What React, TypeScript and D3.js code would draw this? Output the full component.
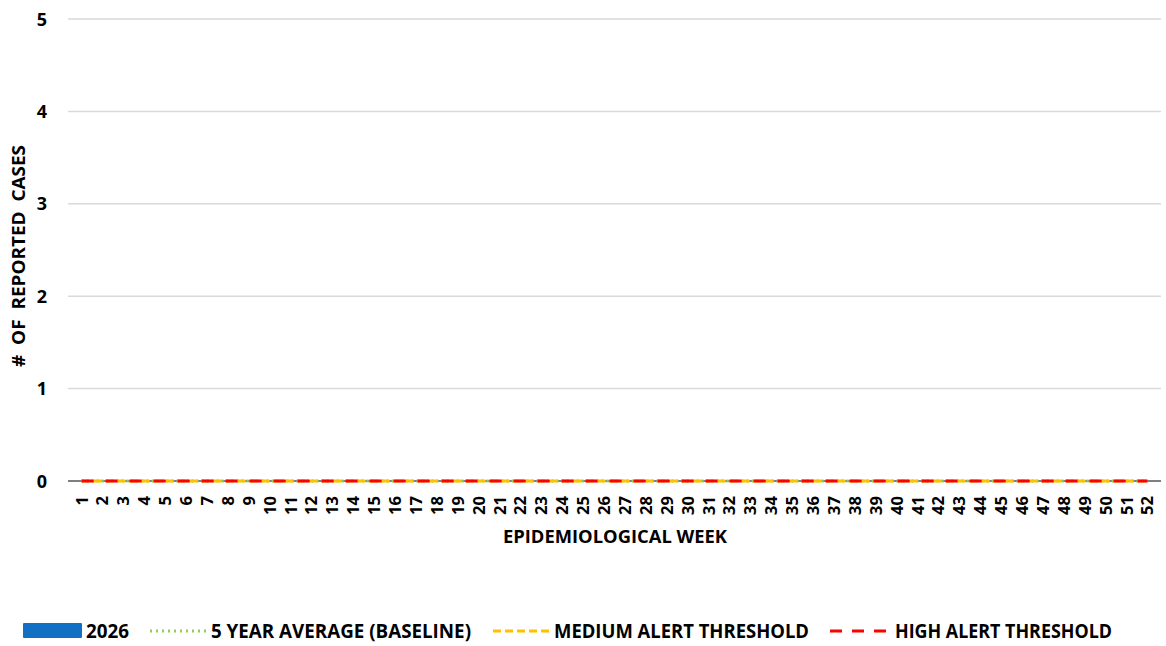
import React from "react";
import * as d3 from "d3";

const weeks: string[] = Array.from({ length: 52 }, (_, i) => String(i + 1));
const cases2026: number[] = [0,0,0,0,0,0,0,0,0,0,0,0,0,0,0,0,0,0,0,0,0,0,0,0,0,0,0,0,0,0,0,0,0,0,0,0,0,0,0,0,0,0,0,0,0,0,0,0,0,0,0,0];
const baseline: number[] = [0,0,0,0,0,0,0,0,0,0,0,0,0,0,0,0,0,0,0,0,0,0,0,0,0,0,0,0,0,0,0,0,0,0,0,0,0,0,0,0,0,0,0,0,0,0,0,0,0,0,0,0];
const mediumThreshold: number[] = [0,0,0,0,0,0,0,0,0,0,0,0,0,0,0,0,0,0,0,0,0,0,0,0,0,0,0,0,0,0,0,0,0,0,0,0,0,0,0,0,0,0,0,0,0,0,0,0,0,0,0,0];
const highThreshold: number[] = [0,0,0,0,0,0,0,0,0,0,0,0,0,0,0,0,0,0,0,0,0,0,0,0,0,0,0,0,0,0,0,0,0,0,0,0,0,0,0,0,0,0,0,0,0,0,0,0,0,0,0,0];
const yTicks: number[] = [0, 1, 2, 3, 4, 5];

const FONT = "'Open Sans', sans-serif";

export default function App() {
  const W = 1166, H = 646;
  const left = 68, right = 1161, top = 19, bottom = 481;
  const x = d3.scaleBand<string>().domain(weeks).range([left, right]).padding(0.3);
  const y = d3.scaleLinear().domain([0, 5]).range([bottom, top]);
  const cx = (w: string) => (x(w) as number) + x.bandwidth() / 2;
  const line = (vals: number[]) =>
    d3.line<number>().x((_, i) => cx(weeks[i])).y((v) => y(v))(vals) as string;

  const legendY = 631;
  const legendBase = 638;
  return (
    <svg width={W} height={H} style={{ position: "absolute", left: 0, top: 0 }} fontFamily={FONT} fontWeight={700}>
      <rect width={W} height={H} fill="#fff" />
      {yTicks.map((t) => (
        <g key={t}>
          {t > 0 && <line x1={left} x2={right} y1={y(t)} y2={y(t)} stroke="#D9D9D9" strokeWidth={1.5} />}
          <text x={47} y={y(t) + 6.5} textAnchor="end" fontSize={18} fill="#000">{t}</text>
        </g>
      ))}
      {weeks.map((w, i) => (
        <rect key={w} x={x(w)} y={y(cases2026[i])} width={x.bandwidth()} height={bottom - y(cases2026[i])} fill="#1170C4" />
      ))}
      <line x1={left} x2={right} y1={bottom} y2={bottom} stroke="#000" strokeWidth={1.2} />
      <path d={line(baseline)} fill="none" stroke="#92D050" strokeWidth={3} strokeDasharray="2,3" />
      <path d={line(mediumThreshold)} fill="none" stroke="#FFC000" strokeWidth={3} strokeDasharray="8,4" />
      <path d={line(highThreshold)} fill="none" stroke="#FF0000" strokeWidth={3} strokeDasharray="12,12" />
      {weeks.map((w) => (
        <text key={w} transform={`translate(${cx(w) + 6},496) rotate(-90)`} textAnchor="end" fontSize={16.5} fill="#000">{w}</text>
      ))}
      <text x={615} y={543} textAnchor="middle" fontSize={18} fill="#000" textLength={224} lengthAdjust="spacingAndGlyphs">EPIDEMIOLOGICAL WEEK</text>
      <text transform={`translate(25,256) rotate(-90)`} textAnchor="middle" fontSize={18} fill="#000" style={{ whiteSpace: "pre" }} textLength={222} lengthAdjust="spacingAndGlyphs">{"#  OF  REPORTED  CASES"}</text>
      <g fontSize={19.5} fill="#000">
        <rect x={23} y={623} width={59} height={15} fill="#1170C4" rx={1} />
        <text x={86} y={legendBase} textLength={43} lengthAdjust="spacingAndGlyphs">2026</text>
        <line x1={150} x2={206} y1={legendY} y2={legendY} stroke="#92D050" strokeWidth={3} strokeDasharray="2,4" />
        <text x={211} y={legendBase} textLength={260} lengthAdjust="spacingAndGlyphs">5 YEAR AVERAGE (BASELINE)</text>
        <line x1={493} x2={549} y1={legendY} y2={legendY} stroke="#FFC000" strokeWidth={3} strokeDasharray="8,4" />
        <text x={554} y={legendBase} textLength={255} lengthAdjust="spacingAndGlyphs">MEDIUM ALERT THRESHOLD</text>
        <line x1={830} x2={888} y1={legendY} y2={legendY} stroke="#FF0000" strokeWidth={3} strokeDasharray="12,10" />
        <text x={895} y={legendBase} textLength={217} lengthAdjust="spacingAndGlyphs">HIGH ALERT THRESHOLD</text>
      </g>
    </svg>
  );
}
